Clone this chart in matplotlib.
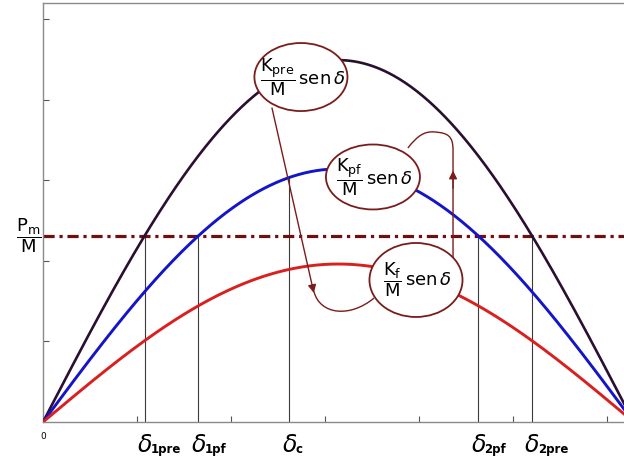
import numpy as np
import matplotlib
matplotlib.use("Agg")
import matplotlib.pyplot as plt
from matplotlib.patches import Ellipse, FancyArrowPatch, PathPatch
from matplotlib.path import Path

plt.rcParams['mathtext.fontset'] = 'dejavusans'

# ---- data ----
K_pre = 4.49      # pre-fault amplitude (K_pre/M)
K_pf = 3.14       # post-fault amplitude (K_pf/M)
K_f = 1.96        # fault amplitude (K_f/M)
Pm = 2.31         # mechanical power (Pm/M)
delta_c = 1.31    # clearing angle (rad)
delta_max = 3.10  # right end of drawn curves
curve_names = ['pre', 'pf', 'f']
curve_amps = [K_pre, K_pf, K_f]
curve_colors = ['#2a0f30', '#1414c8', '#d82020']
angle_subs = ['1pre', '1pf', 'c', '2pf', '2pre']
x_ticks = [0.5, 1.0, 1.5, 2.0, 2.5, 3.0]
y_ticks = [1, 2, 3, 4, 5]

W, H = 624, 459
fig = plt.figure(figsize=(W / 100, H / 100), dpi=100)
ax_left, ax_bottom = 43 / W, (H - 422) / H
px_per_rad, px_per_unit = 188.0, 80.6
xmax, ymax = np.pi, 5.2
ax = fig.add_axes([ax_left, ax_bottom, xmax * px_per_rad / W, ymax * px_per_unit / H])
ax.set_xlim(0, xmax)
ax.set_ylim(0, ymax)

for s in ax.spines.values():
    s.set_color('#8a8a8a')
    s.set_linewidth(1.0)
ax.set_xticks(x_ticks)
ax.set_yticks(y_ticks)
ax.tick_params(direction='in', length=4, width=0.8, color='#555555',
               labelbottom=False, labelleft=False)
ax.text(0, -0.12, '0', fontsize=6.5, ha='center', va='top')

# curves
d = np.linspace(0, delta_max, 400)
for amp, col, lw in zip(curve_amps, curve_colors, [1.9, 2.1, 2.1]):
    ax.plot(d, amp * np.sin(d), color=col, lw=lw, zorder=3)

# Pm/M line
ax.axhline(Pm, color='#6e1010', lw=2.3, linestyle=(0, (3.5, 1.5, 1.0, 1.5)), zorder=2)
ax.text(-0.075, Pm, r'$\dfrac{\mathrm{P_m}}{\mathrm{M}}$', fontsize=13,
        ha='center', va='center', clip_on=False)

# critical angles
d1pre = np.arcsin(Pm / K_pre)
d1pf = np.arcsin(Pm / K_pf)
d2pf = np.pi - d1pf
d2pre = np.pi - d1pre
angles = [d1pre, d1pf, delta_c, d2pf, d2pre]
tops = [Pm, Pm, K_pf * np.sin(delta_c), Pm, Pm]
for x, ytop, sub in zip(angles, tops, angle_subs):
    ax.plot([x, x], [0, ytop], color='#3a3a3a', lw=0.8, zorder=1)
    ax.annotate(r'$\delta$', xy=(x, 0), xytext=(0, -8),
                textcoords='offset points', ha='center', va='top', fontsize=17,
                annotation_clip=False)
    ax.annotate(sub, xy=(x, 0), xytext=(4.5, -22.5),
                textcoords='offset points', ha='left', va='baseline', fontsize=8.5,
                fontweight='bold', annotation_clip=False)

# ellipses with labels
ell_col = '#7a1c1c'
ellipses = [((1.372, 4.28), 0.495, 0.844, 'pre'),
            ((1.755, 3.04), 0.50, 0.806, 'pf'),
            ((1.984, 1.762), 0.495, 0.918, 'f')]
for (cx, cy), w, h, sub in ellipses:
    ax.add_patch(Ellipse((cx, cy), w, h, facecolor='white', edgecolor=ell_col, lw=1.3, zorder=5))
    ax.text(cx + 0.01, cy, r'$\dfrac{\mathrm{K_{%s}}}{\mathrm{M}}\,\mathrm{sen}\,\delta$' % sub,
            fontsize=13, ha='center', va='center', zorder=6)

# arrow 1 : Kpre -> fault
arr = FancyArrowPatch((1.218, 3.896), (1.441, 1.60), arrowstyle='-|>', mutation_scale=12,
                      color=ell_col, lw=1.0, shrinkA=0, shrinkB=0, zorder=4)
ax.add_patch(arr)
p1 = Path([(1.441, 1.62), (1.473, 1.328), (1.633, 1.290), (1.761, 1.538)],
          [Path.MOVETO, Path.CURVE4, Path.CURVE4, Path.CURVE4])
ax.add_patch(PathPatch(p1, facecolor='none', edgecolor=ell_col, lw=1.0, zorder=4))

# arrow 2 : fault -> Kpf
p2 = Path([(1.941, 3.40), (1.995, 3.561), (2.032, 3.610), (2.085, 3.598),
           (2.154, 3.586), (2.181, 3.548), (2.181, 3.375), (2.181, 2.035)],
          [Path.MOVETO, Path.CURVE4, Path.CURVE4, Path.CURVE4,
           Path.CURVE4, Path.CURVE4, Path.CURVE4, Path.LINETO])
ax.add_patch(PathPatch(p2, facecolor='none', edgecolor=ell_col, lw=1.0, zorder=4))
ax.add_patch(FancyArrowPatch((2.181, 2.9), (2.181, 3.12), arrowstyle='-|>', mutation_scale=12,
                             color=ell_col, lw=1.0, shrinkA=0, shrinkB=0, zorder=4))

fig.savefig('out.png', dpi=100)
